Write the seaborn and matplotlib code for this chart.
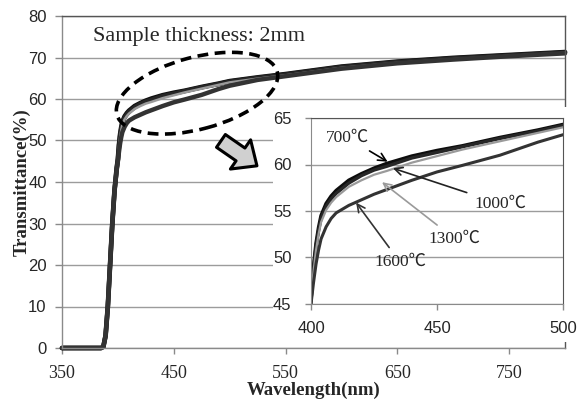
import numpy as np
import pandas as pd
import matplotlib
matplotlib.use("Agg")
import matplotlib.pyplot as plt
import seaborn as sns
from matplotlib.patches import Ellipse, Rectangle
from matplotlib.transforms import IdentityTransform

# ---- data: transmittance (%) versus wavelength (nm) for each annealing temperature
wavelength = [350, 380, 385, 387, 389, 391, 393, 395, 397, 399, 400, 401, 402, 403, 404,
              406, 408, 410, 415, 420, 425, 430, 440, 450, 460, 475, 490, 500,
              525, 550, 600, 650, 700, 750, 800]
t700 = [0, 0, 0, 0.3, 3, 10, 20, 30, 38, 43.5, 45.5, 49.0, 51.5, 53.2, 54.5,
        55.8, 56.6, 57.2, 58.3, 59.0, 59.6, 60.1, 60.9, 61.5, 62.0, 62.9, 63.7, 64.3,
        65.2, 66.0, 67.8, 69.0, 69.9, 70.6, 71.3]
t1000 = [0, 0, 0, 0.3, 3, 10, 20, 30, 38, 43.4, 45.4, 48.8, 51.2, 52.9, 54.2,
         55.5, 56.3, 56.9, 58.0, 58.8, 59.4, 59.8, 60.7, 61.3, 61.9, 62.8, 63.6, 64.2,
         65.1, 65.9, 67.7, 68.9, 69.8, 70.5, 71.2]
t1300 = [0, 0, 0, 0.3, 3, 10, 20, 30, 38, 43.3, 45.3, 48.5, 50.8, 52.5, 53.8,
         55.1, 55.9, 56.5, 57.6, 58.3, 58.9, 59.3, 60.2, 60.9, 61.6, 62.5, 63.4, 64.0,
         64.9, 65.7, 67.5, 68.7, 69.6, 70.4, 71.1]
t1600 = [0, 0, 0, 0.3, 3, 10, 20, 30, 38, 43.0, 45.0, 47.3, 49.3, 50.8, 52.0,
         53.3, 54.2, 54.8, 55.6, 56.2, 56.8, 57.3, 58.3, 59.2, 59.9, 61.0, 62.4, 63.2,
         64.6, 65.5, 67.3, 68.6, 69.5, 70.3, 71.0]
temps = ["700℃", "1000℃", "1300℃", "1600℃"]

x_ticks_main = [350, 450, 550, 650, 750]
y_ticks_main = [0, 10, 20, 30, 40, 50, 60, 70, 80]
x_ticks_inset = [400, 450, 500]
y_ticks_inset = [45, 50, 55, 60, 65]

df = pd.DataFrame({
    "wavelength": wavelength * 4,
    "T": t700 + t1000 + t1300 + t1600,
    "temp": sum([[t] * len(wavelength) for t in temps], []),
})

palette = {"700℃": "#0d0d0d", "1000℃": "#262626", "1300℃": "#9a9a9a", "1600℃": "#333333"}

sns.set_style("white")
plt.rcParams["font.family"] = ["Liberation Serif", "Noto Sans CJK JP"]
serif = ["Liberation Serif", "Noto Sans CJK JP"]
sans = ["Liberation Sans", "DejaVu Sans"]

W, H = 587, 400
fig = plt.figure(figsize=(W / 100, H / 100), dpi=100)

# ---- main axes
ax = fig.add_axes([62 / W, 52 / H, 503 / W, 332 / H], zorder=1)
sns.lineplot(data=df, x="wavelength", y="T", hue="temp", hue_order=temps,
             palette=palette, size="temp", size_order=temps,
             sizes={"700℃": 3.4, "1000℃": 3.2, "1300℃": 1.8, "1600℃": 3.2},
             legend=False, ax=ax, estimator=None)
for ln in ax.get_lines():
    ln.set_clip_on(False)
    ln.set_solid_capstyle("round")

ax.set_xlim(350, 800)
ax.set_ylim(0, 80)
ax.set_xticks(x_ticks_main)
ax.set_yticks(y_ticks_main)
ax.yaxis.grid(True, color="#9c9c9c", lw=1.0)
ax.xaxis.grid(False)
ax.set_axisbelow(True)
for s in ["left", "bottom"]:
    ax.spines[s].set_color("#8a8a8a")
    ax.spines[s].set_linewidth(1.0)
for s in ["top", "right"]:
    ax.spines[s].set_color("#555555")
    ax.spines[s].set_linewidth(1.0)
ax.tick_params(axis="y", direction="out", length=5, width=1, color="#8a8a8a", pad=6, left=True)
ax.tick_params(axis="x", direction="out", length=4, width=1, color="#8a8a8a", pad=8, bottom=True)
for lbl in ax.get_xticklabels():
    lbl.set_fontfamily(serif)
    lbl.set_fontsize(13)
for lbl in ax.get_yticklabels():
    lbl.set_fontfamily(sans)
    lbl.set_fontsize(12)

ax.set_xlabel("Wavelength(nm)", fontsize=13.5, fontweight="bold", family=serif, va="top")
ax.xaxis.set_label_coords(0.5, -0.1)
ax.set_ylabel("Transmittance(%)", fontsize=13.5, fontweight="bold", family=serif)
ax.yaxis.set_label_coords(-0.062, 0.5)

fig.text(93 / W, 1 - 37 / H, "Sample thickness: 2mm", fontsize=16, family=serif,
         ha="left", va="center")

# dashed ellipse around the absorption edge region
cx, cy = ax.transData.transform((470.8, 61.4))
ell = Ellipse((cx, cy), width=166, height=72, angle=15, transform=IdentityTransform(),
              fill=False, ec="black", lw=2.6, linestyle=(0, (3, 1.8)), zorder=5)
fig.add_artist(ell)

# block arrow pointing to the enlarged view
ax.annotate("", xy=(524.4, 43.9), xytext=(492.2, 49.9), xycoords="data",
            arrowprops=dict(arrowstyle="simple,head_length=0.9,head_width=1.6,tail_width=0.7",
                            mutation_scale=16, fc="#d0d0d0", ec="black", lw=2.2,
                            shrinkA=0, shrinkB=0), annotation_clip=False)

# white panel behind the inset
fig.add_artist(Rectangle((273 / W, (H - 342) / H), (567 - 273) / W, (342 - 107) / H,
                         transform=fig.transFigure, fc="white", ec="none", zorder=2))

# ---- inset axes (enlarged 400-500 nm)
axi = fig.add_axes([311 / W, (H - 304) / H, 252 / W, 186 / H], zorder=3)
axi.set_facecolor("white")
sns.lineplot(data=df, x="wavelength", y="T", hue="temp", hue_order=temps,
             palette=palette, size="temp", size_order=temps,
             sizes={"700℃": 2.6, "1000℃": 2.4, "1300℃": 1.6, "1600℃": 2.2},
             legend=False, ax=axi, estimator=None)
axi.set_xlim(400, 500)
axi.set_ylim(45, 65)
axi.set_xticks(x_ticks_inset)
axi.set_yticks(y_ticks_inset)
axi.yaxis.grid(True, color="#9c9c9c", lw=1.0)
axi.xaxis.grid(False)
axi.set_axisbelow(True)
axi.set_xlabel("")
axi.set_ylabel("")
for s in ["left", "bottom"]:
    axi.spines[s].set_color("#8a8a8a")
for s in ["top", "right"]:
    axi.spines[s].set_color("#555555")
axi.tick_params(axis="both", direction="out", length=4, width=1, color="#8a8a8a",
                labelsize=12, left=True, bottom=True)
axi.tick_params(axis="y", pad=10)
axi.tick_params(axis="x", pad=8)
for lbl in axi.get_xticklabels() + axi.get_yticklabels():
    lbl.set_fontfamily(sans)

ann_style = dict(fontsize=12.5, family=serif, ha="center", va="center", annotation_clip=False)
axi.annotate("700℃", xy=(430.4, 60.3), xytext=(414.3, 62.9),
             arrowprops=dict(arrowstyle="->", color="black", lw=1.2, shrinkA=3, shrinkB=0,
                             mutation_scale=14), **ann_style)
axi.annotate("1000℃", xy=(432.5, 59.6), xytext=(475.0, 55.8),
             arrowprops=dict(arrowstyle="->", color="#222222", lw=1.2, shrinkA=3, shrinkB=0,
                             mutation_scale=14), **ann_style)
axi.annotate("1300℃", xy=(428.2, 58.1), xytext=(457.1, 52.0),
             arrowprops=dict(arrowstyle="->", color="#9a9a9a", lw=1.2, shrinkA=3, shrinkB=0,
                             mutation_scale=14), **ann_style)
axi.annotate("1600℃", xy=(417.9, 55.9), xytext=(435.3, 49.5),
             arrowprops=dict(arrowstyle="->", color="#333333", lw=1.2, shrinkA=3, shrinkB=0,
                             mutation_scale=14), **ann_style)

fig.savefig("out.png", dpi=100)
